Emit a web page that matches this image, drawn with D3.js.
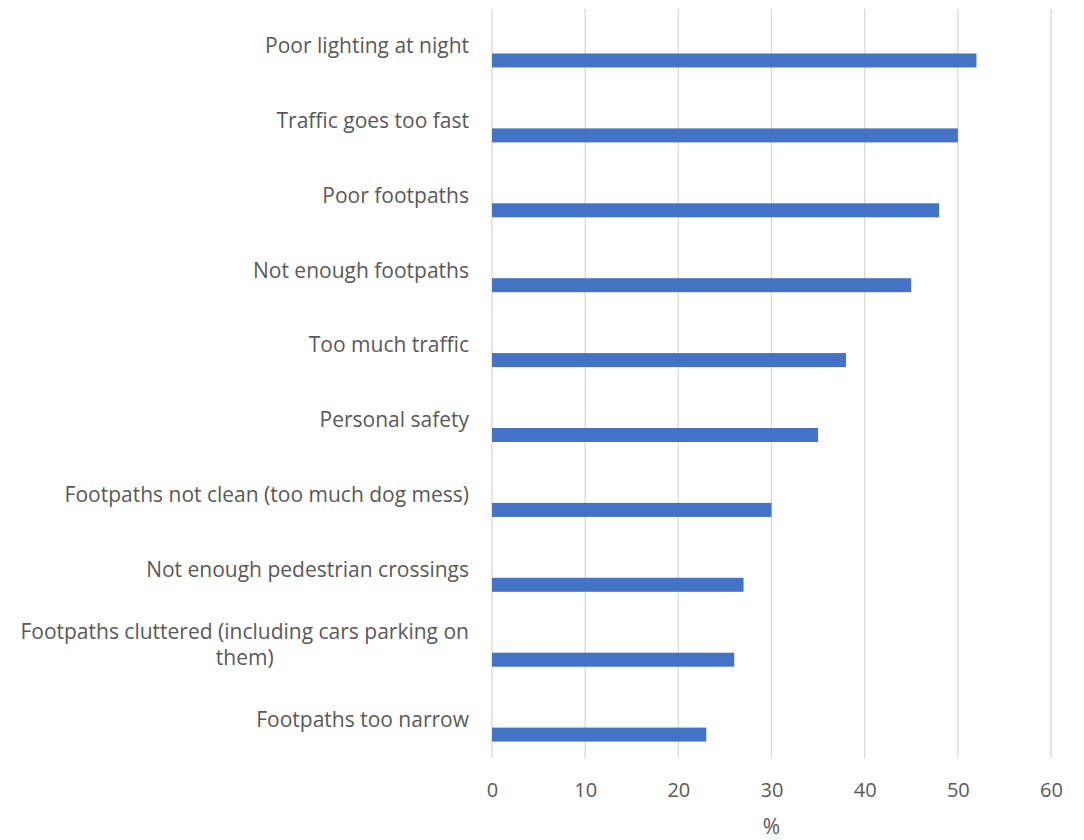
<!DOCTYPE html>
<html>
<head>
<meta charset="utf-8">
<script src="https://cdn.jsdelivr.net/npm/d3@7"></script>
<style>
  html, body { margin: 0; padding: 0; background: #ffffff; }
  svg { display: block; }
  text { font-family: "Open Sans", "Noto Sans", sans-serif; fill: #595959; }
</style>
</head>
<body>
<svg id="chart" width="1084" height="840"></svg>
<script>
// Reasons people give for not walking more, share of respondents (%)
const categories = [
  "Poor lighting at night",
  "Traffic goes too fast",
  "Poor footpaths",
  "Not enough footpaths",
  "Too much traffic",
  "Personal safety",
  "Footpaths not clean (too much dog mess)",
  "Not enough pedestrian crossings",
  "Footpaths cluttered (including cars parking on them)",
  "Footpaths too narrow"
];
const values = [52, 50, 48, 45, 38, 35, 30, 27, 26, 23];
const xTicks = [0, 10, 20, 30, 40, 50, 60];
const axisTitle = "%";

const svg = d3.select("#chart");
const margin = { top: 9, right: 33, bottom: 82, left: 492 };
const width = 1084 - margin.left - margin.right;
const height = 840 - margin.top - margin.bottom;

const g = svg.append("g").attr("transform", `translate(${margin.left},${margin.top})`);

const x = d3.scaleLinear().domain([0, 60]).range([0, width]);
const y = d3.scaleBand().domain(categories).range([0, height]).padding(0);

// vertical gridlines
g.append("g")
  .selectAll("line")
  .data(xTicks)
  .join("line")
  .attr("x1", d => x(d)).attr("x2", d => x(d))
  .attr("y1", 0).attr("y2", height)
  .attr("stroke", "#d9d9d9")
  .attr("stroke-width", 1.3);

// bars sit in the lower part of each category band
const barTop = 0.594, barHeight = 0.187;
g.append("g")
  .selectAll("rect")
  .data(values)
  .join("rect")
  .attr("x", x(0))
  .attr("y", (d, i) => y(categories[i]) + y.bandwidth() * barTop)
  .attr("width", d => x(d) - x(0))
  .attr("height", y.bandwidth() * barHeight)
  .attr("fill", "#4472c4");

// x axis tick labels
const xAxis = d3.axisBottom(x).tickValues(xTicks).tickSize(0).tickPadding(25);
const xa = g.append("g").attr("transform", `translate(0,${height})`).call(xAxis);
xa.select(".domain").remove();
xa.selectAll("text")
  .attr("font-size", 20)
  .style("font-family", '"Open Sans", "Noto Sans", sans-serif')
  .attr("fill", "#595959");

// axis title
g.append("text")
  .attr("x", width / 2)
  .attr("y", height + 76)
  .attr("text-anchor", "middle")
  .attr("font-size", 21)
  .text(axisTitle);

// category labels, right-aligned block, wrapped lines centred within the block
const labelRight = -23;
const maxWidth = 460;
const lineHeight = 26;
const fontSize = 21;
const labels = g.append("g");
categories.forEach(cat => {
  const t = labels.append("text").attr("font-size", fontSize).attr("text-anchor", "end");
  const words = cat.split(" ");
  const lines = [];
  let line = [];
  const probe = t.append("tspan");
  words.forEach(w => {
    line.push(w);
    probe.text(line.join(" "));
    if (probe.node().getComputedTextLength() > maxWidth && line.length > 1) {
      line.pop();
      lines.push(line.join(" "));
      line = [w];
    }
  });
  lines.push(line.join(" "));
  probe.remove();

  const cy = y(cat) + y.bandwidth() / 2 - 1;
  if (lines.length === 1) {
    t.append("tspan").attr("x", labelRight).attr("y", cy).attr("dy", "0.35em").text(lines[0]);
  } else {
    // measure widest line to centre the others under it
    const widths = lines.map(l => {
      const s = t.append("tspan").text(l);
      const w = s.node().getComputedTextLength();
      s.remove();
      return w;
    });
    const blockW = d3.max(widths);
    const centre = labelRight - blockW / 2;
    t.attr("text-anchor", "middle");
    lines.forEach((l, i) => {
      t.append("tspan")
        .attr("x", centre)
        .attr("y", cy + (i - (lines.length - 1) / 2) * lineHeight)
        .attr("dy", "0.35em")
        .text(l);
    });
  }
});
</script>
</body>
</html>
